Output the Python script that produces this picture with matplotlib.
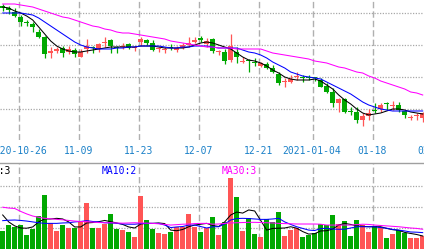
import numpy as np
import pandas as pd
import matplotlib
matplotlib.use("Agg")
import matplotlib.pyplot as plt

# ---------------- data ----------------
dates = pd.bdate_range("2020-10-21", "2021-02-01", freq="C", holidays=["2021-01-01"])

open_ = [16.35,16.25,16.05,15.80,15.53,15.45,15.05,14.80,14.00,14.10,
         14.25,14.05,14.15,13.80,14.20,14.30,14.20,14.48,14.65,14.28,
         14.28,14.45,14.23,14.55,14.65,14.50,14.18,14.13,14.28,14.15,
         14.25,14.40,14.55,14.75,14.45,14.70,14.03,14.05,13.65,14.05,
         13.53,13.63,13.55,13.35,13.45,13.25,12.95,12.53,12.55,12.78,
         12.80,12.78,12.76,12.65,12.35,12.05,11.50,11.68,11.08,11.05,
         10.65,10.85,11.15,11.20,11.46,11.33,11.40,11.10,10.74,10.84,
         10.75]
close = [16.25,16.13,15.85,15.55,15.48,15.30,14.80,13.95,14.10,14.18,
         14.00,14.20,13.95,14.05,14.35,14.25,14.45,14.50,14.35,14.23,
         14.30,14.25,14.25,14.70,14.50,14.15,14.20,14.15,14.23,14.25,
         14.40,14.50,14.65,14.63,14.60,14.10,14.08,13.60,14.35,13.80,
         13.55,13.58,13.50,13.50,13.25,13.05,12.50,12.55,12.70,12.80,
         12.73,12.74,12.73,12.30,12.05,11.50,11.68,11.05,11.04,10.65,
         10.85,11.00,11.10,11.40,11.43,11.36,11.15,10.90,10.76,10.86,
         11.00]
high = [16.45,16.35,16.25,15.90,15.65,15.55,15.20,14.85,14.30,14.30,
        14.35,14.35,14.25,14.20,14.70,14.35,14.50,14.80,14.70,14.35,
        14.50,14.50,14.33,14.80,14.68,14.65,14.30,14.30,14.45,14.33,
        14.50,14.80,14.80,14.83,14.75,14.75,14.15,14.20,14.95,14.30,
        13.80,13.70,13.75,13.55,13.55,13.40,13.05,12.75,12.90,13.05,
        12.90,12.90,12.80,12.75,12.50,12.25,11.75,11.75,11.30,11.30,
        11.00,11.20,11.50,11.50,11.55,11.60,11.55,11.15,10.90,11.00,
        11.05]
low = [16.10,15.95,15.80,15.35,15.35,15.05,14.75,13.75,13.75,14.00,
       13.80,13.95,13.80,13.78,14.00,14.00,14.05,14.30,14.00,14.00,
       14.20,14.20,14.10,14.40,14.40,14.10,14.05,14.00,14.15,14.05,
       14.20,14.30,14.50,14.55,14.30,14.00,13.90,13.45,13.55,13.50,
       13.50,13.05,13.35,13.30,13.20,13.00,12.40,12.30,12.50,12.65,
       12.55,12.65,12.60,12.30,12.00,11.30,11.05,11.00,10.90,10.50,
       10.35,10.65,11.00,11.05,11.15,11.15,11.05,10.75,10.65,10.65,
       10.55]

ma5 = [16.30,16.25,16.10,16.00,15.85,15.65,15.30,14.95,14.60,14.35,
       14.20,14.10,14.05,14.05,14.10,14.15,14.20,14.25,14.30,14.30,
       14.30,14.30,14.30,14.35,14.35,14.35,14.30,14.25,14.25,14.25,
       14.25,14.30,14.40,14.50,14.55,14.50,14.40,14.30,14.20,14.00,
       13.80,13.65,13.60,13.50,13.35,13.15,13.00,12.80,12.70,12.65,
       12.65,12.65,12.70,12.60,12.40,12.20,11.90,11.65,11.45,11.20,
       11.00,10.90,10.95,11.00,11.10,11.20,11.20,11.15,11.05,11.00,
       10.95]
ma10 = [16.00,16.00,16.00,16.00,15.95,15.90,15.75,15.55,15.35,15.15,
        14.95,14.75,14.55,14.40,14.30,14.25,14.20,14.20,14.20,14.25,
        14.25,14.30,14.30,14.35,14.35,14.35,14.35,14.30,14.25,14.25,
        14.30,14.30,14.35,14.35,14.35,14.30,14.25,14.25,14.25,14.25,
        14.15,14.05,14.00,13.90,13.75,13.55,13.40,13.25,13.05,12.95,
        12.85,12.80,12.75,12.70,12.55,12.40,12.25,12.10,11.95,11.75,
        11.55,11.40,11.30,11.20,11.15,11.10,11.10,11.10,11.10,11.10,
        11.10]
ma30 = [16.45,16.45,16.45,16.40,16.35,16.30,16.20,16.10,16.00,15.90,
        15.80,15.75,15.65,15.55,15.45,15.35,15.30,15.20,15.15,15.05,
        15.00,15.00,14.95,14.90,14.85,14.80,14.75,14.70,14.60,14.55,
        14.50,14.45,14.40,14.35,14.30,14.30,14.25,14.25,14.25,14.20,
        14.20,14.20,14.20,14.20,14.10,14.00,13.95,13.90,13.85,13.80,
        13.75,13.70,13.60,13.55,13.50,13.40,13.30,13.25,13.15,13.05,
        13.00,12.85,12.75,12.60,12.50,12.40,12.30,12.20,12.05,12.00,
        11.90]

volume = [8.6,11.4,10.5,11.4,6.7,9.3,15.7,25.7,12.4,8.6,
          11.4,10.1,10.1,12.9,22.0,10.1,10.1,12.0,16.7,9.4,
          9.0,8.0,5.9,25.4,13.8,9.4,7.8,7.0,8.2,10.6,
          10.6,16.7,10.5,8.2,9.8,15.1,6.7,13.0,34.0,24.9,
          8.7,14.9,7.1,5.9,14.1,13.0,17.8,6.2,9.0,9.9,
          5.6,6.7,7.5,11.7,11.4,16.2,11.9,13.1,6.2,13.8,
          11.4,8.2,11.0,10.5,5.4,7.1,8.9,7.5,5.4,5.1,
          6.0]
vol_ma5 = [16.2,12.9,11.0,10.0,9.9,10.5,12.9,14.3,14.3,14.6,
           14.3,12.9,10.5,10.5,12.4,12.6,13.0,13.6,13.0,12.4,
           11.7,10.5,10.0,11.9,12.2,12.2,12.4,12.1,9.0,8.7,
           9.3,10.6,11.4,11.8,12.2,11.2,10.7,12.9,16.2,17.6,
           17.1,18.6,18.1,13.6,9.0,9.8,9.9,10.0,10.6,9.9,
           8.3,7.1,7.3,8.6,8.7,9.5,11.4,12.2,11.7,11.0,
           10.8,10.6,10.6,10.6,9.8,9.2,8.9,7.9,7.4,6.9,
           6.2]
vol_ma10 = [13.5,13.7,13.8,13.6,13.3,12.9,12.5,12.2,12.2,12.2,
            12.4,12.5,12.9,13.1,13.5,13.1,12.9,12.5,12.4,12.2,
            11.9,11.8,11.8,12.1,12.2,12.2,12.2,11.4,10.2,10.5,
            10.7,11.4,11.4,10.7,10.0,10.6,10.6,11.9,13.8,14.5,
            14.6,14.5,14.3,14.1,14.1,14.3,14.6,12.9,11.7,10.6,
            9.8,9.0,8.8,9.7,9.9,9.5,9.4,9.4,10.0,10.6,
            10.6,10.6,10.6,10.2,9.9,9.3,9.0,8.6,8.1,8.0,
            7.8]
vol_ma30 = [19.9,19.5,19.3,17.9,16.7,15.7,15.1,14.6,14.4,14.1,
            13.9,13.6,13.3,13.1,13.0,12.8,12.6,12.5,12.5,12.4,
            12.3,12.4,12.5,12.4,12.3,12.2,12.0,11.7,11.4,11.6,
            11.8,11.9,12.1,12.2,12.2,11.8,11.9,12.2,12.4,12.5,
            12.6,12.7,12.7,12.6,12.5,12.4,12.2,12.1,12.0,11.9,
            11.9,11.9,11.9,11.8,11.4,11.4,11.4,11.4,11.4,11.6,
            11.8,11.7,11.4,11.2,11.0,10.8,10.6,10.3,10.0,9.8,
            9.4]

tick_dates = ["2020-10-26", "2020-11-09", "2020-11-23", "2020-12-07",
              "2020-12-21", "2021-01-04", "2021-01-18", "2021-02-01"]
tick_labels = ["2020-10-26", "11-09", "11-23", "12-07",
               "12-21", "2021-01-04", "01-18", "02-01"]
price_grid = [16.0, 14.4, 12.8, 11.2]
vol_grid = [10, 20, 30]
vol_labels = ["MA5:3", "MA10:2", "MA30:3"]

# ---------------- style ----------------
UP, DOWN = "#ff5555", "#00a800"
W, H = 424, 249
n = len(close)
idx = np.arange(n)
xlim = (-0.45, 70.217)
date_list = list(dates.strftime("%Y-%m-%d"))
tick_pos = [date_list.index(d) - 0.25 for d in tick_dates]

fig = plt.figure(figsize=(W / 100, H / 100), dpi=100)

def px_axes(top, bottom):
    a = fig.add_axes([0, 1 - bottom / H, 1, (bottom - top) / H])
    a.set_xlim(*xlim)
    a.set_xticks([]); a.set_yticks([])
    for s in a.spines.values():
        s.set_visible(False)
    a.patch.set_alpha(0)
    return a

ax = px_axes(0, 140)
axd = px_axes(140, 163)
axv = px_axes(163, 249)

ax.set_ylim(9.65, 16.65)
axv.set_ylim(0, 40.95)

grid_v = dict(color="#b0b0b0", lw=1.0, linestyle=(0, (4.6, 2.2)), zorder=0)
grid_h = dict(color="#a8a8a8", lw=0.9, linestyle=(0, (1.0, 1.2)), zorder=0)
for a in (ax, axv):
    for p in tick_pos:
        a.axvline(p, **grid_v)
for g in price_grid:
    ax.axhline(g, **grid_h)
for g in vol_grid:
    axv.axhline(g, **grid_h)

o = np.array(open_); c = np.array(close)
colors = [UP if cc >= oo else DOWN for oo, cc in zip(o, c)]
bottom = np.minimum(o, c)
height = np.maximum(np.abs(c - o), 0.05)
ax.vlines(idx, low, high, colors=colors, lw=0.9, zorder=2)
ax.bar(idx, height, bottom=bottom, width=0.8, color=colors, linewidth=0, zorder=3)
ax.plot(idx, ma5, color="black", lw=0.75, zorder=4)
ax.plot(idx, ma10, color="#0000ff", lw=0.75, zorder=4)
ax.plot(idx, ma30, color="#ff00ff", lw=0.75, zorder=4)

axv.bar(idx, volume, width=0.8, color=colors, linewidth=0, zorder=2)
axv.plot(idx, vol_ma5, color="black", lw=0.75, zorder=4)
axv.plot(idx, vol_ma10, color="#0000ff", lw=0.75, zorder=4)
axv.plot(idx, vol_ma30, color="#ff00ff", lw=0.75, zorder=4)

# separator line above volume panel
fig.add_artist(plt.Line2D([0, 1], [1 - 163.5 / H] * 2, color="#a0a0a0", lw=1.0))

mono = "DejaVu Sans Mono"
for p, lab in zip(tick_pos, tick_labels):
    axd.text(p - 0.17, 0.52, lab, ha="center", va="center", fontsize=7.05,
             family=mono, color="#1a80c8", transform=axd.get_xaxis_transform())

label_x = [-18.0, 101.5, 222.0]
label_c = ["black", "#0000ff", "#ff00ff"]
for x, lab, col in zip(label_x, vol_labels, label_c):
    fig.text(x / W, 1 - 170.5 / H, lab, ha="left", va="center", fontsize=7.05,
             family=mono, color=col)

fig.savefig("out.png", dpi=100)
